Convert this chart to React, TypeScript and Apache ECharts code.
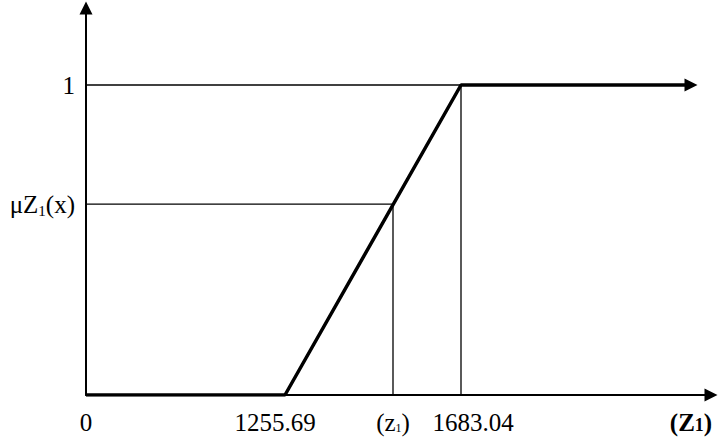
import React, { useEffect, useRef } from "react";
import * as echarts from "echarts";

// Schematic positions (the reference diagram is not drawn to scale)
const xAxisMax = 625;
const yAxisMax = 1.2484;

const xTickValues = [0, 199, 307, 375, 605];
const xTickLabels = ["0", "1255.69", "(z1)", "1683.04", "(Z1)"];

const yTickValues = [0.616, 1];
const yTickLabels = ["μZ1(x)", "1"];

// Membership function (thick line)
const membershipX = [0, 199, 375, 605];
const membershipY = [0, 0, 1, 1];

// Guide values
const muValue = 0.616;
const zPos = 307;
const upperPos = 375;

const FONT = "'Liberation Serif', 'Times New Roman', serif";

function xLabel(v: number): string {
  const i = xTickValues.findIndex((t) => Math.abs(t - v) < 1e-6);
  if (i < 0) return "";
  const s = xTickLabels[i];
  if (s === "1255.69") return "{l|" + s + "}";
  if (s === "1683.04") return "{rr|" + s + "}";
  if (s === "(z1)") return "{r|(z}{s|1}{r|)}";
  if (s === "(Z1)") return "{b|(Z}{bs|1}{b|)}";
  return "{r|" + s + "}";
}

function yLabel(v: number): string {
  const i = yTickValues.findIndex((t) => Math.abs(t - v) < 1e-6);
  if (i < 0) return "";
  const s = yTickLabels[i];
  if (s === "μZ1(x)") return "{r|μZ}{s2|1}{r|(x)}";
  return "{r|" + s + "}";
}

export default function App() {
  const ref = useRef<HTMLDivElement>(null);
  useEffect(() => {
    if (!ref.current) return;
    const chart = echarts.init(ref.current, null, { renderer: "svg" });
    const rich = {
      r: { fontFamily: FONT, fontSize: 25, color: "#000", lineHeight: 30 },
      l: { fontFamily: FONT, fontSize: 25, color: "#000", lineHeight: 30, padding: [0, 20, 0, 0] },
      rr: { fontFamily: FONT, fontSize: 25, color: "#000", lineHeight: 30, padding: [0, 0, 0, 24] },
      s: { fontFamily: FONT, fontSize: 12, color: "#000", verticalAlign: "bottom", lineHeight: 30, padding: [0, 0, 3, 0] },
      s2: { fontFamily: FONT, fontSize: 15, color: "#000", verticalAlign: "bottom", lineHeight: 30, padding: [0, 0, 1, 0] },
      b: { fontFamily: FONT, fontSize: 25, fontWeight: "bold", color: "#000", lineHeight: 30 },
      bs: { fontFamily: FONT, fontSize: 18, fontWeight: "bold", color: "#000", verticalAlign: "bottom", lineHeight: 30, padding: [0, 0, 3, 0] },
    };
    const thin = { color: "#000", width: 1.3 };
    chart.setOption({
      animation: false,
      backgroundColor: "#fff",
      grid: { left: 86, right: 9, top: 8, bottom: 50, containLabel: false },
      xAxis: {
        type: "value",
        min: 0,
        max: xAxisMax,
        splitLine: { show: false },
        axisTick: { show: false },
        axisLine: {
          show: true,
          onZero: false,
          symbol: ["none", "triangle"],
          symbolSize: [13, 13],
          lineStyle: { color: "#000", width: 2 },
        },
        axisLabel: {
          customValues: xTickValues,
          formatter: (v: number) => xLabel(v),
          margin: 12,
          rich,
          showMinLabel: true,
          showMaxLabel: true,
        },
      },
      yAxis: {
        type: "value",
        min: 0,
        max: yAxisMax,
        splitLine: { show: false },
        axisTick: { show: false },
        axisLine: {
          show: true,
          onZero: false,
          symbol: ["none", "triangle"],
          symbolSize: [13, 13],
          lineStyle: { color: "#000", width: 2 },
        },
        axisLabel: {
          customValues: yTickValues,
          formatter: (v: number) => yLabel(v),
          margin: 11,
          rich,
        },
      },
      series: [
        {
          type: "line",
          symbol: "none",
          lineStyle: thin,
          data: [[0, 1], [upperPos, 1]],
          z: 2,
        },
        {
          type: "line",
          symbol: "none",
          lineStyle: thin,
          data: [[0, muValue], [zPos, muValue]],
          z: 2,
        },
        {
          type: "line",
          symbol: "none",
          lineStyle: thin,
          data: [[zPos, 0], [zPos, muValue]],
          z: 2,
        },
        {
          type: "line",
          symbol: "none",
          lineStyle: thin,
          data: [[upperPos, 0], [upperPos, 1]],
          z: 2,
        },
        {
          type: "line",
          symbol: "none",
          lineStyle: { color: "#000", width: 3.5 },
          itemStyle: { color: "#000" },
          z: 3,
          data: membershipX.map((x, i) =>
            i === membershipX.length - 1
              ? { value: [x, membershipY[i]], symbol: "triangle", symbolSize: 13, symbolRotate: -90 }
              : { value: [x, membershipY[i]] }
          ),
        },
      ],
    });
    return () => chart.dispose();
  }, []);
  return (
    <div
      ref={ref}
      style={{ position: "absolute", left: 0, top: 0, width: 720, height: 445 }}
    />
  );
}
